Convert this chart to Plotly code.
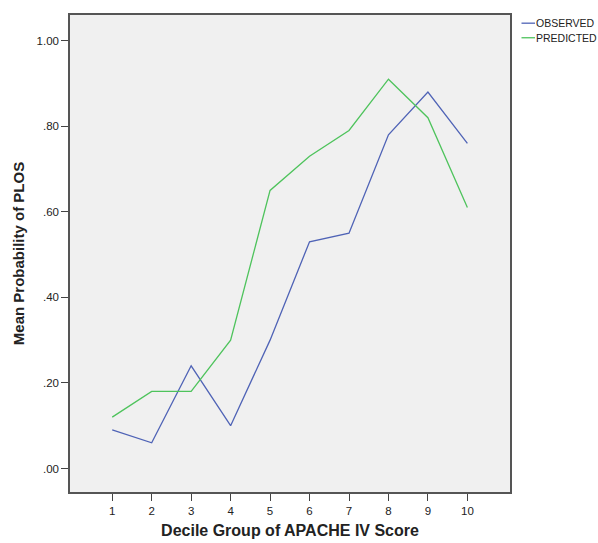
import plotly.graph_objects as go

deciles = [1, 2, 3, 4, 5, 6, 7, 8, 9, 10]
observed = [0.09, 0.06, 0.24, 0.10, 0.30, 0.53, 0.55, 0.78, 0.88, 0.76]
predicted = [0.12, 0.18, 0.18, 0.30, 0.65, 0.73, 0.79, 0.91, 0.82, 0.61]
series_names = ["OBSERVED", "PREDICTED"]
series_colors = ["#4f63b6", "#4ec35c"]
y_ticks = [0.0, 0.2, 0.4, 0.6, 0.8, 1.0]
y_tick_labels = [".00", ".20", ".40", ".60", ".80", "1.00"]

fig = go.Figure()
for vals, name, col in zip([observed, predicted], series_names, series_colors):
    fig.add_trace(go.Scatter(x=deciles, y=vals, mode="lines", name=name,
                             line=dict(color=col, width=1.3), showlegend=False))

W, H = 598, 543
L, R, T, B = 70, 88, 14.5, 50.5
PW, PH = W - L - R, H - T - B

def px(fx):
    return (fx - L) / PW

def py(fy):
    return 1 - (fy - T) / PH

# legend drawn at the right of the frame
legend_rows = [22.7, 37.3]
for name, col, fy in zip(series_names, series_colors, legend_rows):
    fig.add_shape(type="line", xref="paper", yref="paper",
                  x0=px(521.5), x1=px(535), y0=py(fy), y1=py(fy),
                  line=dict(color=col, width=1.3))
    fig.add_annotation(xref="paper", yref="paper", x=px(536), y=py(fy),
                       text=name, showarrow=False, xanchor="left", yanchor="middle",
                       xshift=-2, font=dict(size=10.5, color="#222"))

font = "Liberation Sans, Arial, sans-serif"
fig.update_layout(
    width=W, height=H,
    margin=dict(l=L, r=R, t=T, b=B, autoexpand=False),
    paper_bgcolor="white",
    plot_bgcolor="#f0f0f0",
    font=dict(family=font, size=11, color="#222"),
    showlegend=False,
)
fig.update_xaxes(
    range=[-0.07, 11.08], tickvals=deciles, ticks="outside", ticklen=7,
    tickcolor="#444", showgrid=False, zeroline=False, automargin=False,
    showline=True, linecolor="#555", linewidth=1.5, mirror=True,
    tickfont=dict(size=11.5),
    title=dict(text="<b>Decile Group of APACHE IV Score</b>", font=dict(size=16), standoff=9),
)
fig.update_yaxes(
    range=[-0.055, 1.06], tickvals=y_ticks, ticktext=y_tick_labels, ticks="outside",
    ticklen=7, tickcolor="#444", showgrid=False, zeroline=False, automargin=False,
    showline=True, linecolor="#555", linewidth=1.5, mirror=True,
    tickfont=dict(size=11.5),
    title=dict(text="<b>Mean Probability of PLOS</b>", font=dict(size=15), standoff=8),
)

fig.write_html("out.html",
               config={"displayModeBar": False},
               post_script="document.body.style.margin='0';document.body.style.overflow='hidden';")
